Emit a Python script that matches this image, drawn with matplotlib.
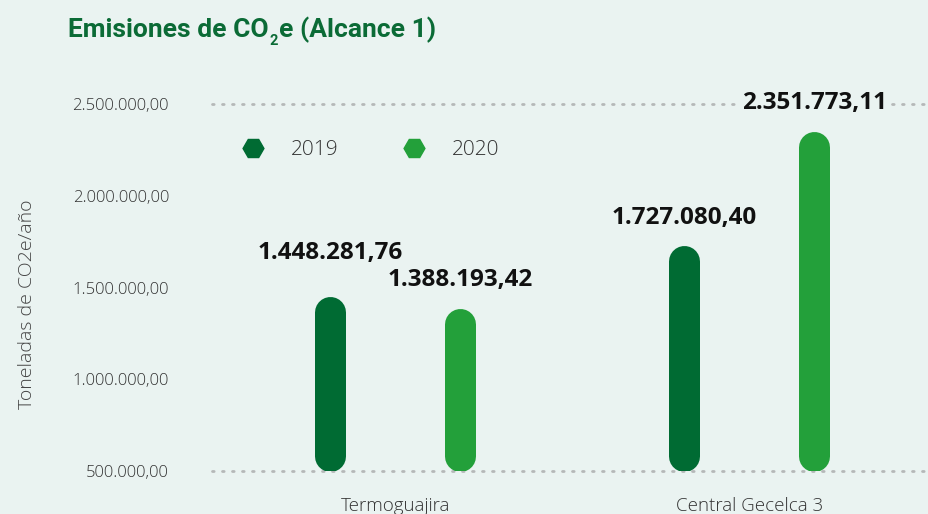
import numpy as np
import matplotlib.pyplot as plt
from matplotlib.lines import Line2D
from matplotlib.ticker import FuncFormatter

plantas = ["Termoguajira", "Central Gecelca 3"]
anios = ["2019", "2020"]
em_2019 = [1448281.76, 1727080.40]
em_2020 = [1388193.42, 2351773.11]
ticks_y = [500000, 1000000, 1500000, 2000000, 2500000]

verde_osc = "#006b33"
verde_cla = "#23a03a"
fondo = "#eaf3f1"

plt.rcParams["font.family"] = ["Open Sans", "DejaVu Sans"]


def fmt(v, pos=None):
    s = f"{v:,.2f}"
    return s.replace(",", "X").replace(".", ",").replace("X", ".")


W, H = 929, 514
fig = plt.figure(figsize=(W / 100, H / 100), dpi=100, facecolor=fondo)
ax = fig.add_axes([212 / W, 43 / H, 717 / W, 367 / H])
ax.set_facecolor(fondo)
ax.set_xlim(-0.517, 1.508)
ax.set_ylim(ticks_y[0], ticks_y[-1])

# radio del extremo redondeado, en unidades de datos
ancho_px = 31
px_por_unidad = 367 / (ticks_y[-1] - ticks_y[0])
r = (ancho_px / 2) / px_por_unidad
lw = ancho_px * 72 / 100

x = np.arange(len(plantas))
off = 0.184
for j, (serie, dx, color) in enumerate([(em_2019, -off, verde_osc), (em_2020, off, verde_cla)]):
    for i, v in enumerate(serie):
        xi = x[i] + dx
        ax.plot([xi, xi], [ticks_y[0] + r, v - r], color=color, lw=lw,
                solid_capstyle="round", zorder=3)
        # subir la etiqueta de 2019 en Termoguajira para que no choque con la de 2020
        dy = 32 if (i, j) == (0, 0) else 20
        ax.annotate(fmt(v), (xi, v), xytext=(0, dy), textcoords="offset points",
                    ha="center", va="center", fontsize=17.5, fontweight="bold",
                    color="#111111", zorder=4, annotation_clip=False,
                    bbox=dict(boxstyle="square,pad=0.1", fc=fondo, ec="none"))

for yv in [ticks_y[0], ticks_y[-1]]:
    ax.axhline(yv, color="#b5b8b8", lw=2, ls=(0, (0.6, 3)), dash_capstyle="round",
               zorder=1, clip_on=False)

for s in ax.spines.values():
    s.set_visible(False)

ax.set_yticks(ticks_y)
ax.yaxis.set_major_formatter(FuncFormatter(fmt))
ax.set_xticks(x)
ax.set_xticklabels(plantas)
ax.tick_params(axis="y", length=0, pad=31, labelsize=12, labelcolor="#333333")
ax.tick_params(axis="x", length=0, pad=19, labelsize=13.5, labelcolor="#333333")
for t in ax.get_yticklabels() + ax.get_xticklabels():
    t.set_fontweight("light")

fig.text(27 / W, 1 - 304 / H, "Toneladas de CO2e/año", rotation=90,
         ha="center", va="center", fontsize=14, color="#444444", fontweight="light")

# titulo con subindice: se arma en tres trozos
tit = dict(fontweight="bold", color="#0b6b36", family="Roboto", va="baseline", ha="left")
base = 37
t1 = fig.text(68 / W, 1 - base / H, "Emisiones de CO", fontsize=19, **tit)
rend = fig.canvas.get_renderer()
x1 = t1.get_window_extent(rend).x1
t2 = fig.text((x1 + 1) / W, 1 - (base + 8) / H, "2", fontsize=10.5, **tit)
x2 = t2.get_window_extent(rend).x1
fig.text((x2 + 1) / W, 1 - base / H, "e (Alcance 1)", fontsize=19, **tit)

handles = [Line2D([], [], marker="H", ls="", ms=15, color=c) for c in [verde_osc, verde_cla]]
leg = ax.legend(handles, anios, loc="center left", bbox_to_anchor=(0.0427, 0.875),
                ncol=2, frameon=False, fontsize=15, handlelength=1, handletextpad=1.33,
                columnspacing=3.1, borderpad=0, borderaxespad=0)
for t in leg.get_texts():
    t.set_color("#333333")
    t.set_fontweight("light")

fig.savefig("out.png", dpi=100, facecolor=fondo)
